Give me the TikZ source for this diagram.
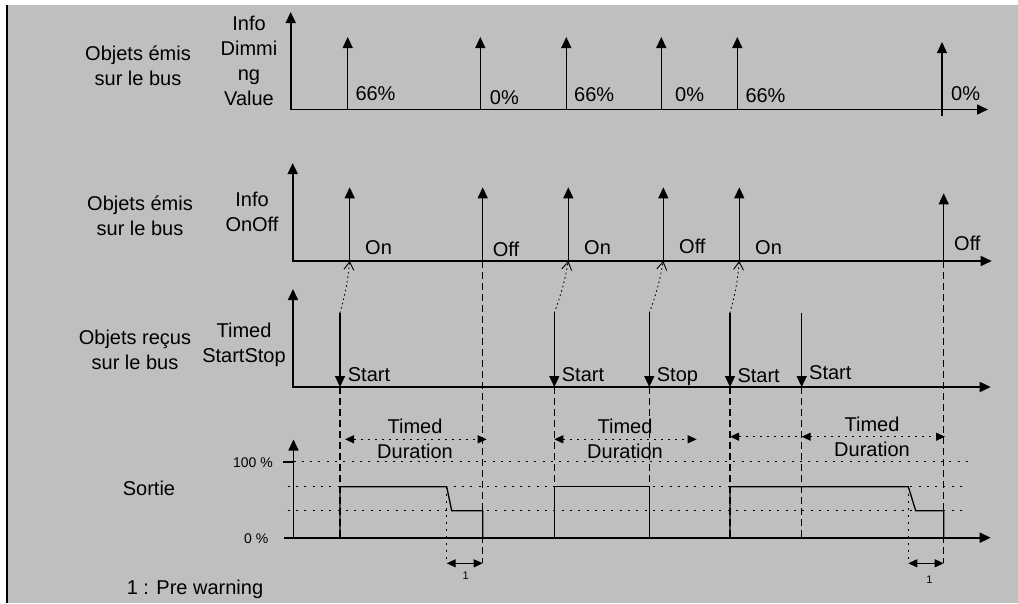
\documentclass[tikz,border=0pt]{standalone}
\usepackage{fontspec}
\setmainfont{Liberation Sans}
\usetikzlibrary{arrows.meta,positioning}
\definecolor{panel}{gray}{0.75}

\begin{document}
\begin{tikzpicture}[x=1pt,y=-1pt,font=\fontsize{20}{25}\selectfont]

\tikzset{bigtip/.tip={Triangle[length=11pt,width=10pt]},
durtip/.tip={Triangle[length=9pt,width=8pt]},
axis/.style={line width=1.6pt,{bigtip}-{bigtip}},
pulse/.style={line width=1.3pt,-{bigtip}},
value/.style={anchor=base west,inner sep=0pt},
rowlabel/.style={align=center,inner sep=0pt},
link/.style={line width=0.9pt,dash pattern=on 1.5pt off 3pt,-{Straight Barb[length=8pt,width=10pt,line width=0.9pt]}},
guide/.style={line width=1.1pt,dash pattern=on 7pt off 4pt},
level/.style={line width=1.1pt,dash pattern=on 2pt off 6.3pt},
output/.style={line width=1.3pt},
duration/.style={line width=1.1pt,dash pattern=on 2pt off 5pt},
small/.style={font=\fontsize{14}{16}\selectfont,inner sep=0pt}}

% Background
\useasboundingbox (0,0) rectangle (1018,603);
\fill[white] (0,0) rectangle (1018,603);
\fill[panel] (7,5) rectangle (1018,603);
\draw[line width=2pt] (7,5) -- (7,603);

% Axes
\foreach \n/\ox/\oy/\ty/\tx in {1/290.7/109.5/12/988, 2/292.7/261/163/991.7, 3/293/387/289/990.7, 4/293.5/537.7/439.5/990.7} {
  \coordinate (o\n) at (\ox,\oy);
  \coordinate (yt\n) at (\ox,\ty);
  \coordinate (xt\n) at (\tx,\oy);
  \draw[axis] (yt\n) -- (o\n) -- (xt\n);
}

% Row labels
\node[rowlabel] (bus1) at (138,65.5) {Objets émis\\sur le bus};
\node[rowlabel] (obj1) at (249,60.5) {Info\\Dimmi\\ng\\Value};
\node[rowlabel] (bus2) at (140,216) {Objets émis\\sur le bus};
\node[rowlabel] (obj2) at (252,212) {Info\\OnOff};
\node[rowlabel] (bus3) at (135,350) {Objets reçus\\sur le bus};
\node[rowlabel] (obj3) at (244,345) {Timed\\StartStop};
\node[rowlabel] (bus4) at (149,488) {Sortie};
\node[rowlabel] (note) at (195,589.3) {1 : Pre warning};

% Info Dimming Value pulses
\foreach \i/\x/\top/\lx/\ly/\txt in {1/347.7/37/355.3/100.5/66\%, 2/480.3/37/489.7/104/0\%, 3/566.3/37/574/101.5/66\%,
  4/661.3/37/675/101.5/0\%, 5/737.3/37/745.3/102.5/66\%, 6/942/42/951/100/0\%} {
  \coordinate (dv\i) at (\x,109.5);
  \coordinate (dvt\i) at (\x,\top);
  \draw[pulse] (dv\i) -- (dvt\i);
  \node[value] (dvl\i) at (\lx,\ly) {\txt};
}
\coordinate (dvb6) at (942,116);
\draw[line width=1.3pt] (dvb6) -- (dv6);

% Info OnOff pulses
\foreach \i/\x/\top/\lx/\ly/\txt in {1/349.7/187.3/365/254/On, 2/482.7/187.3/492.7/256/Off, 3/568.3/187.3/584/254/On,
  4/663.3/187.3/679/253.3/Off, 5/739.3/187.3/755/254/On, 6/943.7/193.3/954/250.7/Off} {
  \coordinate (ov\i) at (\x,261);
  \coordinate (ovt\i) at (\x,\top);
  \draw[pulse] (ov\i) -- (ovt\i);
  \node[value] (ovl\i) at (\lx,\ly) {\txt};
}

% Timed StartStop telegrams
\foreach \i/\x/\lx/\ly/\txt in {1/340/347.7/381.7/Start, 2/554.3/561.7/381.7/Start, 3/649.3/656.7/381.7/Stop,
  4/730/737.3/382.7/Start, 5/801.7/809/379.3/Start} {
  \coordinate (ts\i) at (\x,313);
  \coordinate (tb\i) at (\x,387);
  \coordinate (gb\i) at (\x,537.7);
  \draw[pulse] (ts\i) -- (tb\i);
  \node[value] (tsl\i) at (\lx,\ly) {\txt};
}

% Telegram -> status links
\foreach \i/\j in {1/1, 2/3, 3/4, 4/5} \draw[link] (ts\i) to[bend right=5] (ov\j);

% Output levels
\coordinate (l100) at (293.5,461.7); \coordinate (l100e) at (968,461.7); \coordinate (l100t) at (283,461.7);
\coordinate (lhi) at (287.7,486.7); \coordinate (lhie) at (964,486.7);
\coordinate (llo) at (287.7,510.7); \coordinate (lloe) at (964,510.7);
\coordinate (l0t) at (284,537.7);
\draw[level] (l100) -- (l100e); \draw[level] (lhi) -- (lhie); \draw[level] (llo) -- (lloe);
\draw[line width=1.6pt] (l100t) -- (l100); \draw[line width=1.6pt] (l0t) -- (o4);
\node[small,anchor=east] (p100) at (273,463) {100 \%};
\node[small,anchor=east] (p0) at (268.5,539) {0 \%};

% Pre warning marks
\coordinate (pw1) at (446.7,486.7); \coordinate (pl1) at (451.7,510.7); \coordinate (ob1) at (482.7,537.7);
\coordinate (pa1) at (446.7,563.3); \coordinate (pb1) at (482.7,563.3);
\coordinate (pw2) at (908.3,486.7); \coordinate (pl2) at (915.7,510.7); \coordinate (ob2) at (943.7,537.7);
\coordinate (pa2) at (908.3,563.3); \coordinate (pb2) at (943.7,563.3);
\coordinate (hi2) at (649.3,486.7);

% Dashed guides
\foreach \i in {1,...,5} \draw[guide] (tb\i) -- (gb\i);
\draw[guide] (ov2) -- (pb1); \draw[guide] (ov6) -- (pb2);

% Output
\draw[output] (gb1) |- (pw1) -- (pl1) -| (ob1);
\draw[output] (gb2) |- (hi2) -- (gb3);
\draw[output] (gb4) |- (pw2) -- (pl2) -| (ob2);

\draw[duration] (pw1) -- (pa1); \draw[duration] (pw2) -- (pa2);
\draw[line width=1.1pt,{durtip}-{durtip}] (pa1) -- (pb1);
\draw[line width=1.1pt,{durtip}-{durtip}] (pa2) -- (pb2);
\node[inner sep=0pt,font=\fontsize{11}{13}\selectfont] (pn1) at (465.7,575.5) {1};
\node[inner sep=0pt,font=\fontsize{11}{13}\selectfont] (pn2) at (929.3,580) {1};

% Timed Duration
\coordinate (td1a) at (345,439.3); \coordinate (td1b) at (486.7,439.3);
\coordinate (td2a) at (554.3,439.3); \coordinate (td2b) at (696.7,439.3);
\coordinate (td3a) at (730,436.7); \coordinate (td3b) at (801.7,436.7);
\coordinate (td4a) at (801.7,436.7); \coordinate (td4b) at (945,436.7);
\draw[duration,{durtip}-{durtip}] (td1a) -- (td1b);
\draw[duration,{durtip}-{durtip}] (td2a) -- (td2b);
\draw[duration,{durtip}-] (td3a) -- (td3b);
\draw[duration,{durtip}-{durtip}] (td4a) -- (td4b);
\node[rowlabel] (dur1) at (415,439) {Timed\\Duration};
\node[rowlabel] (dur2) at (625,439) {Timed\\Duration};
\node[rowlabel] (dur3) at (872,437) {Timed\\Duration};

\end{tikzpicture}
\end{document}
